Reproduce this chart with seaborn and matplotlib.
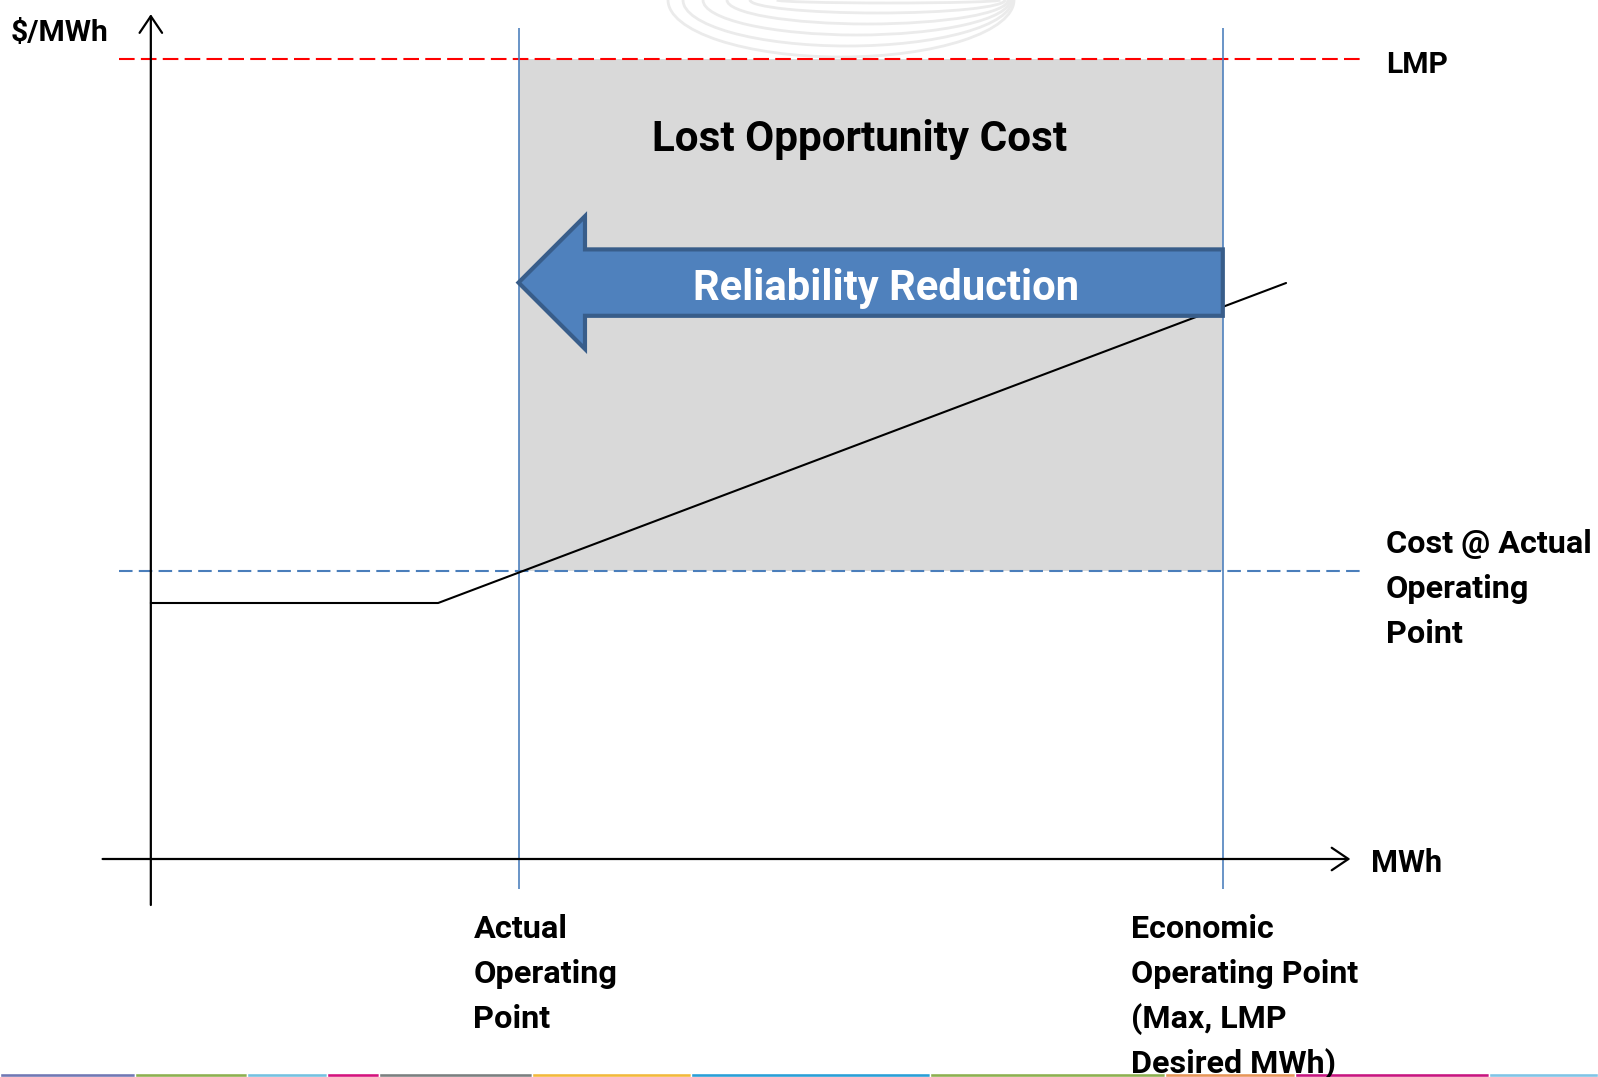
import matplotlib
matplotlib.use("Agg")
import matplotlib.pyplot as plt
from matplotlib import font_manager
from matplotlib.patches import FancyArrow, Rectangle, Arc
import seaborn as sns

# ---------------- DATA ----------------
# generator cost curve (MWh, $/MWh)
cost_mwh = [0.0, 26.8, 105.9]
cost_price = [32.0, 32.0, 72.0]

lmp_price = 100.0
actual_cost = 36.0
actual_mwh = 34.3
economic_mwh = 100.0

# strip of brand colours along the bottom edge (start px, width px, colour)
strip_starts = [0, 135, 247, 327, 379, 532, 691, 930, 1165, 1295, 1489]
strip_widths = [135, 112, 80, 52, 153, 159, 239, 235, 130, 194, 109]
strip_colors = ["#7178b4", "#8db050", "#74c1e0", "#d4127d", "#7b7f80", "#f2b93b",
                "#2a9fd6", "#8db050", "#e8965a", "#c8157f", "#80c4e6"]

# faint watermark arcs (left px, right px, depth px)
arc_left = [777, 750, 727, 703, 683, 668]
arc_right = [1000, 1005, 1008, 1010, 1012, 1014]
arc_depth = [3, 13, 24, 35, 46, 57]

sns.set_theme(style="white")

# pick a condensed bold face if available
names = {f.name for f in font_manager.fontManager.ttflist}
family = "DejaVu Sans"
for cand in ["Liberation Sans Narrow", "Arial Narrow", "Roboto", "Liberation Sans"]:
    if cand in names:
        family = cand
        break
plt.rcParams["font.family"] = [family, "DejaVu Sans"]

fig = plt.figure(figsize=(15.98, 10.77), dpi=100)
renderer = fig.canvas.get_renderer()

# ---------------- BACKGROUND DECORATION ----------------
bg = fig.add_axes([0, 0, 1, 1])
bg.set_xlim(0, 1598)
bg.set_ylim(1077, 0)
bg.axis("off")
for l, r, d in zip(arc_left, arc_right, arc_depth):
    bg.add_patch(Arc(((l + r) / 2, 0), r - l, 2 * d, theta1=0, theta2=180,
                     color="#ebebeb", lw=2))
bg.broken_barh(list(zip(strip_starts, strip_widths)), (1073, 4), facecolors=strip_colors)

# ---------------- DIAGRAM ----------------
ax = fig.add_axes([0, 0, 1, 1])
ax.set_xlim(-14.07, 135.0)
ax.set_ylim(-27.25, 107.375)
ax.axis("off")
ax.patch.set_alpha(0)

# lost opportunity area
ax.add_patch(Rectangle((actual_mwh, actual_cost), economic_mwh - actual_mwh,
                       lmp_price - actual_cost, color="#d9d9d9", lw=0, zorder=1))

# price reference lines
ax.hlines(lmp_price, -2.95, 113.3, color="#ff0000", lw=1.5, linestyles=(0, (7.5, 3)), zorder=2)
ax.hlines(actual_cost, -2.95, 113.3, color="#4a7ebb", lw=1.5, linestyles=(0, (6.5, 3)), zorder=2)

# operating points
ax.vlines([actual_mwh, economic_mwh], -3.8, 103.9, color="#4f81bd", lw=1.2, zorder=2)

# cost curve
sns.lineplot(x=cost_mwh, y=cost_price, ax=ax, color="black", lw=1.5, zorder=3)

# axes with open arrow heads
arrow_kw = dict(arrowstyle="->, head_length=0.4, head_width=0.27", lw=1.6,
                color="black", mutation_scale=30, shrinkA=0, shrinkB=0)
ax.annotate("", xy=(111.9, 0), xytext=(-4.5, 0), arrowprops=arrow_kw, zorder=4)
ax.annotate("", xy=(0, 105.6), xytext=(0, -5.75), arrowprops=arrow_kw, zorder=4)

# reliability reduction block arrow
ax.add_patch(FancyArrow(economic_mwh, 72.05, actual_mwh - economic_mwh, 0,
                        width=8.3, head_width=16.6, head_length=6.2,
                        length_includes_head=True, fc="#4f81bd", ec="#385d8a",
                        lw=3, zorder=5))


# ---------------- TEXT ----------------
def text_block(x, y, lines, width_px, max_size, ha="left", color="black", step=5.6, z=6):
    # one text per line, font size shrunk so the widest line fits the reference width
    texts = [ax.text(x, y - i * step, s, fontsize=max_size, ha=ha, va="baseline",
                     fontweight="bold", color=color, zorder=z)
             for i, s in enumerate(lines)]
    widest = max(t.get_window_extent(renderer).width for t in texts)
    size = min(max_size, max_size * width_px / widest)
    for t in texts:
        t.set_fontsize(size)
    return texts


text_block(66.1, 88.5, ["Lost Opportunity Cost"], 415, 37, ha="center")
text_block(68.6, 69.9, ["Reliability Reduction"], 387, 33, ha="center", color="white")
text_block(-13.1, 102.3, ["$/MWh"], 98, 25)
text_block(115.2, 98.2, ["LMP"], 62, 27)
text_block(115.2, 38.2, ["Cost @ Actual", "Operating", "Point"], 206, 27)
text_block(113.8, -1.6, ["MWh"], 71, 27)
text_block(30.1, -9.9, ["Actual", "Operating", "Point"], 144, 27)
text_block(91.4, -9.9, ["Economic", "Operating Point", "(Max, LMP", "Desired MWh)"], 228, 27)

fig.savefig("out.png", dpi=100)
plt.close(fig)
